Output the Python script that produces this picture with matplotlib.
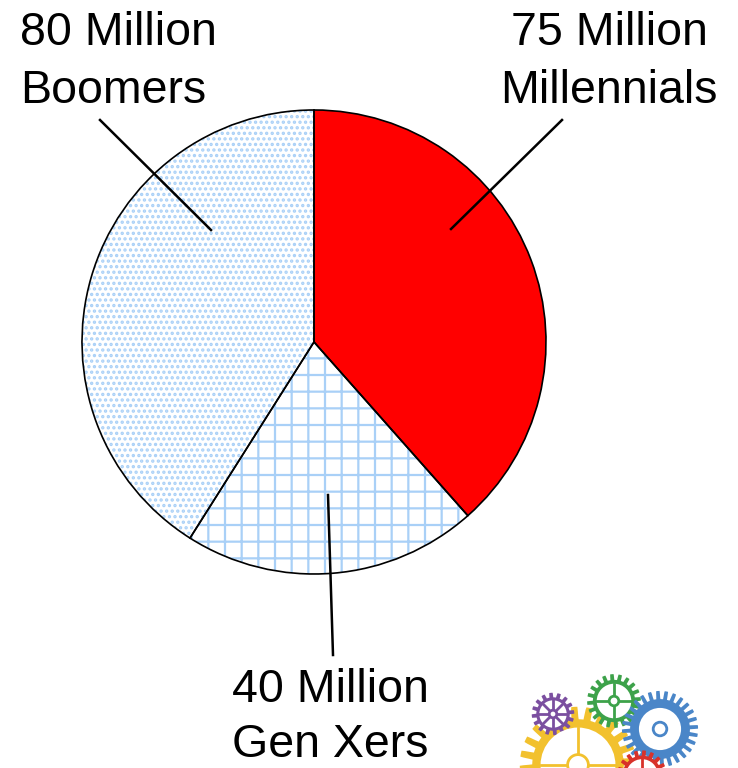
import numpy as np
import matplotlib.pyplot as plt
from matplotlib.patches import Polygon, Circle

# data
groups = ['Millennials', 'Gen Xers', 'Boomers']
population_millions = [75, 40, 80]
labels = ['75 Million\nMillennials', '40 Million\nGen Xers', '80 Million\nBoomers']

plt.rcParams['font.family'] = ['Liberation Sans', 'DejaVu Sans']
plt.rcParams['hatch.linewidth'] = 1.6

W, H = 738, 768
fig = plt.figure(figsize=(W / 100, H / 100), dpi=100)
ax = fig.add_axes([0, 0, 1, 1])

center = (314, H - 342)
radius = 232

# fill with hatches (hatch colour follows edge colour)
fills = ['#ff0000', 'white', 'white']
hatches = [None, '+', '...']
wedges, _ = ax.pie(population_millions, colors=fills, startangle=90, counterclock=False,
                   center=center, radius=radius, frame=True,
                   wedgeprops=dict(edgecolor='#a9d0f7', linewidth=0))
for w, h in zip(wedges, hatches):
    if h:
        w.set_hatch(h)

# black outlines on top
ax.pie(population_millions, colors=['none'] * 3, startangle=90, counterclock=False,
       center=center, radius=radius, frame=True,
       wedgeprops=dict(edgecolor='black', linewidth=1.2))

# labels and leader lines (pixel coords, y from top)
txt = dict(fontsize=33.5, linespacing=1.4, va='top')
ax.text(20, H - 11, labels[2], ha='left', **txt)
ax.text(609, H - 11, labels[0], ha='center', **txt)
ax.text(330, H - 668, labels[1], ha='center', fontsize=33.5, linespacing=1.33, va='top')
ax.plot([100, 211], [H - 120, H - 230], color='black', lw=1.8)
ax.plot([562, 451], [H - 120, H - 229], color='black', lw=1.8)
ax.plot([328, 333], [H - 495, H - 655], color='black', lw=1.8)


# small gear logo in the corner
def gear(x, y, r, n, color, spokes=4, hole=0.72):
    t = np.linspace(0, 2 * np.pi, 720)
    rr = r * (1 + 0.12 * np.clip(4 * np.sin(n * t), -1, 1))
    ax.add_patch(Polygon(np.c_[x + rr * np.cos(t), y + rr * np.sin(t)], closed=True,
                         facecolor=color, edgecolor='none', zorder=5))
    ax.add_patch(Circle((x, y), r * hole, facecolor='white', edgecolor='none', zorder=6))
    for k in range(spokes):
        a = np.pi * k / spokes
        ax.plot([x - r * hole * np.cos(a), x + r * hole * np.cos(a)],
                [y - r * hole * np.sin(a), y + r * hole * np.sin(a)],
                color=color, lw=2, zorder=7)
    ax.add_patch(Circle((x, y), r * 0.2, facecolor='white', edgecolor=color, lw=2, zorder=8))


gear(578, H - 765, 52, 24, '#f2c12e', spokes=2)
gear(553, H - 714, 19, 16, '#7b4fa0', spokes=4)
gear(614, H - 701, 24, 20, '#3da24a', spokes=2)
gear(660, H - 729, 34, 28, '#4a86c8', spokes=0, hole=0.62)
gear(642, H - 775, 22, 18, '#d8322a', spokes=2)

ax.set_xlim(0, W)
ax.set_ylim(0, H)
ax.set_aspect('equal')
ax.axis('off')

fig.savefig('out.png', dpi=100)
